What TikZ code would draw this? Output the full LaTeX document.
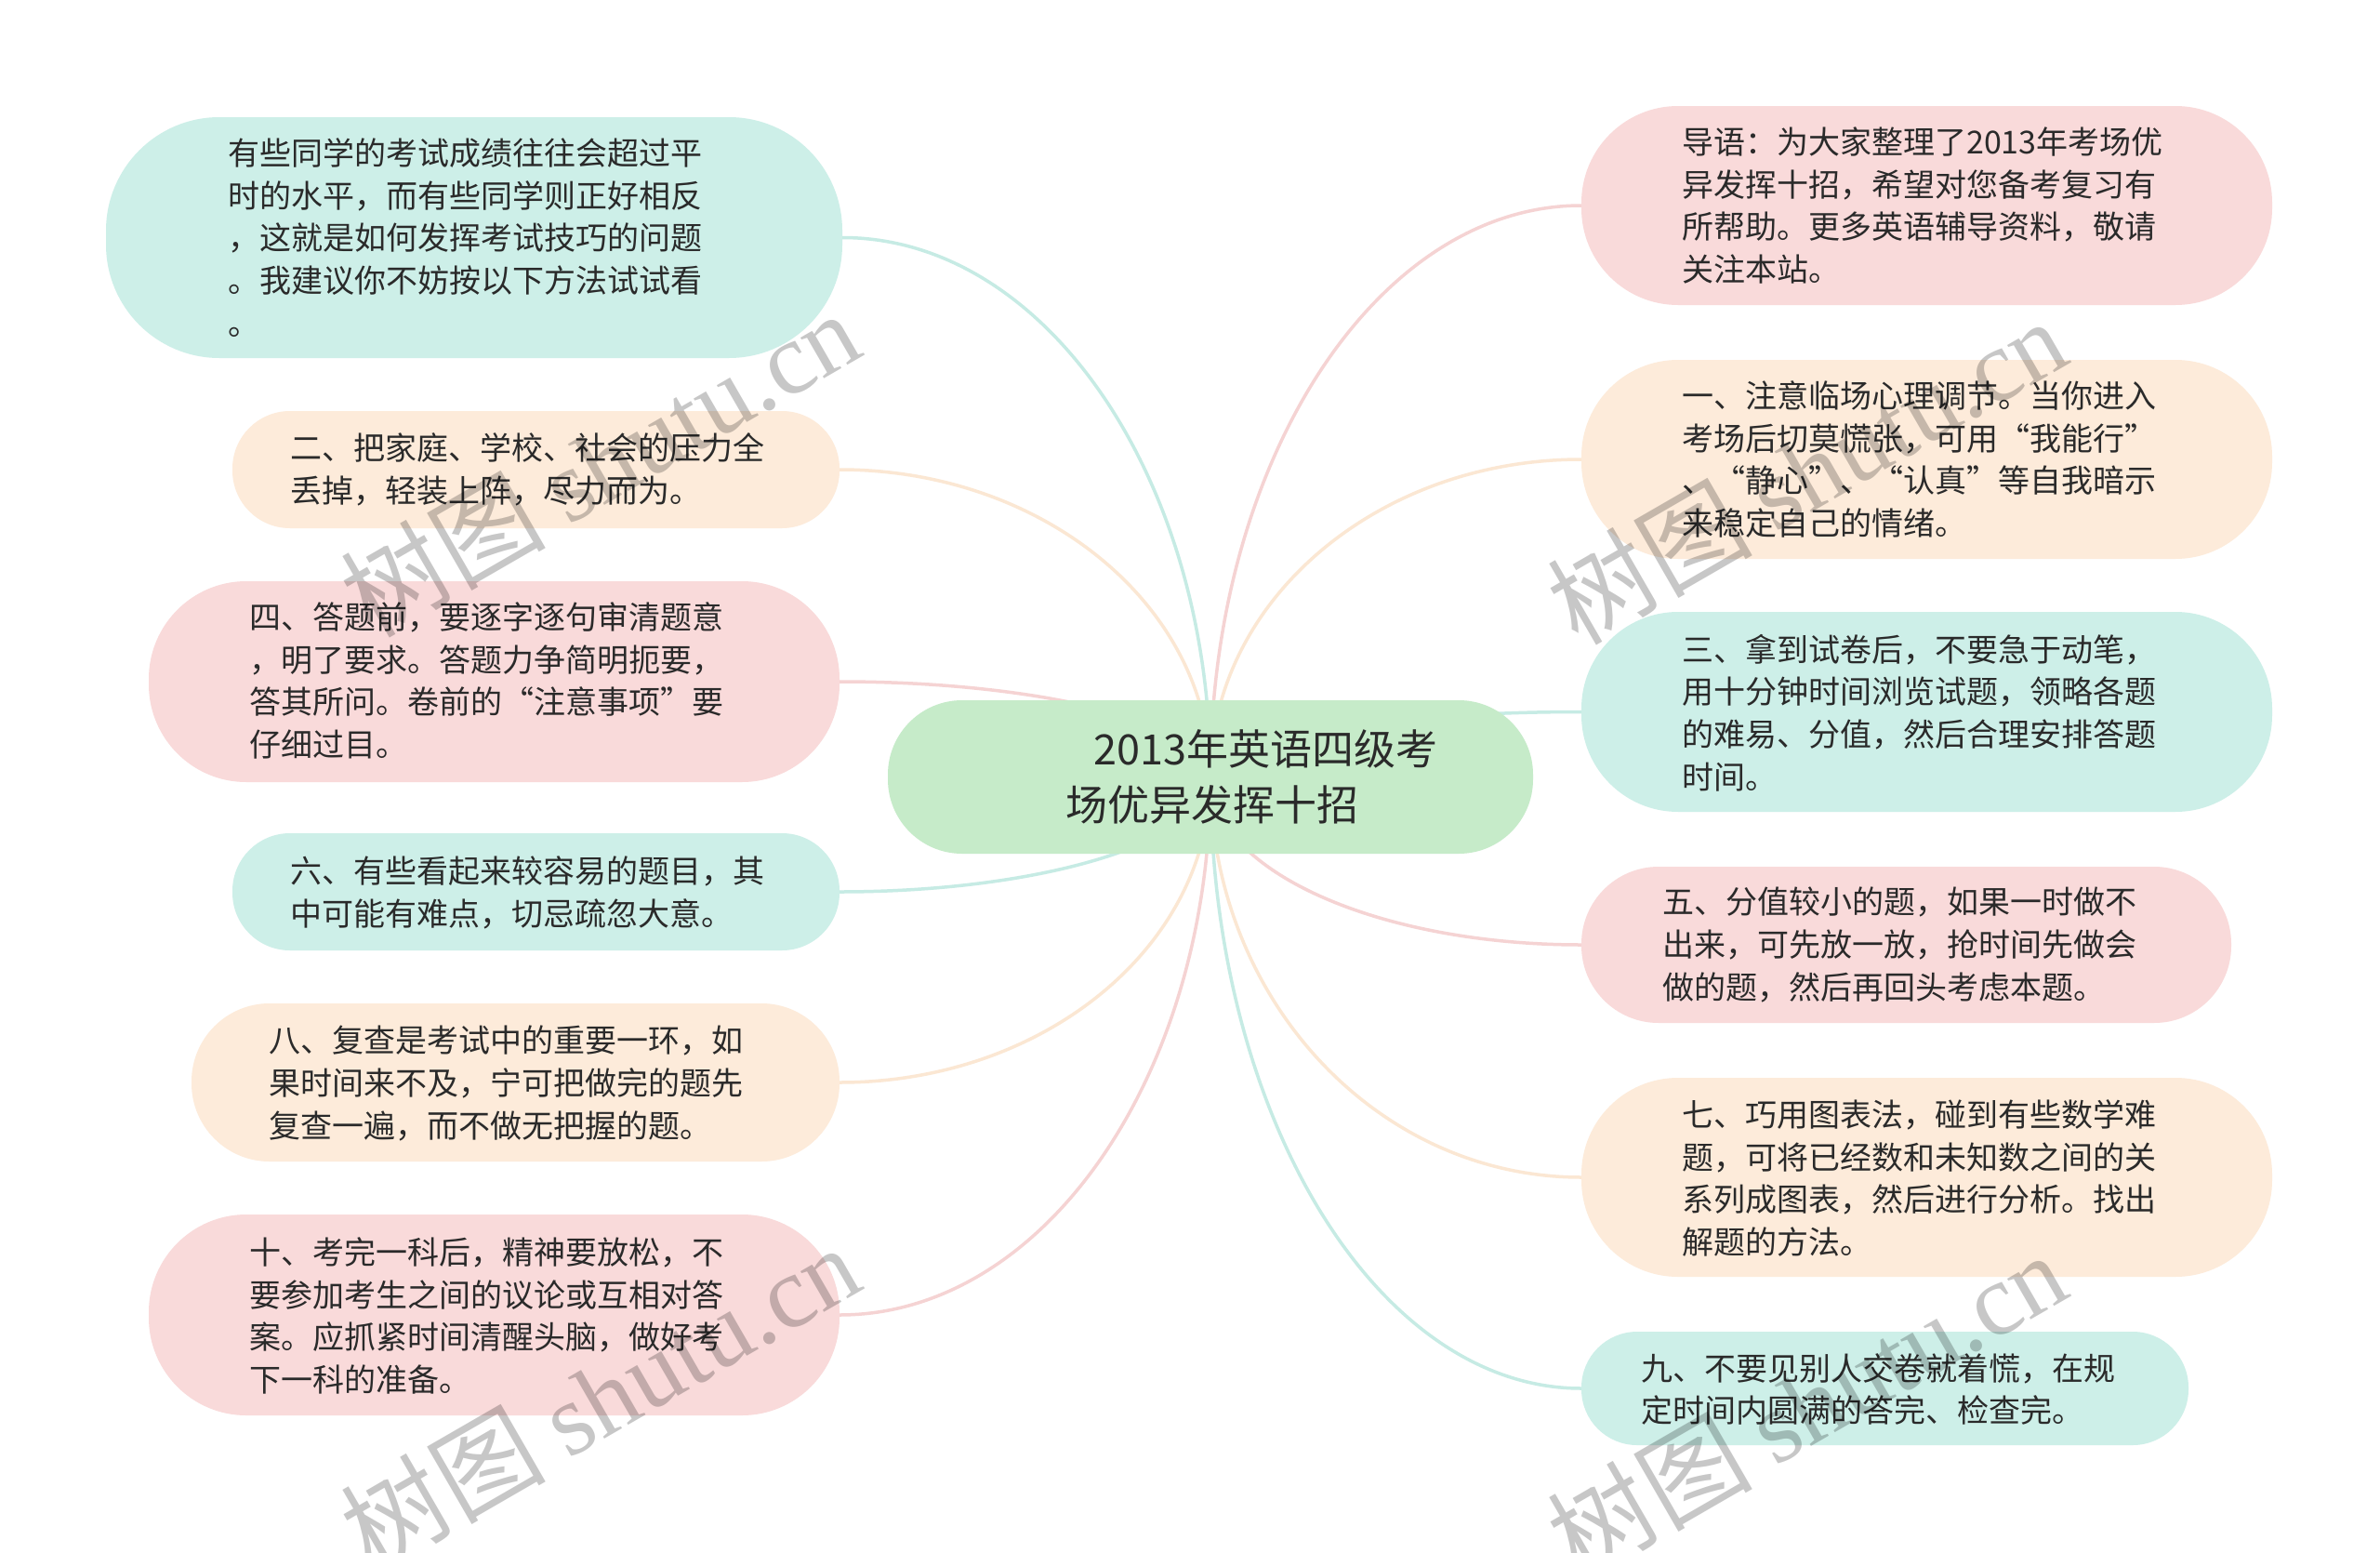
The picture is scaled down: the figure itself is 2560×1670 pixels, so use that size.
\documentclass[tikz,border=0pt]{standalone}
\usepackage{fontspec}
\setmainfont{Noto Sans CJK SC}
\newfontfamily\wmserif{Liberation Serif}
\usetikzlibrary{calc,backgrounds}
\definecolor{tealf}{HTML}{CDEFE8}
\definecolor{peachf}{HTML}{FDEBDA}
\definecolor{pinkf}{HTML}{F9DADA}
\definecolor{greenf}{HTML}{C6EBC9}
\definecolor{tealL}{HTML}{C6EBE4}
\definecolor{peachL}{HTML}{FBE7D3}
\definecolor{pinkL}{HTML}{F5D3D3}
\definecolor{txtc}{HTML}{2A2A2A}
\tikzset{
  bx/.style={shape=rectangle, inner sep=0pt, draw=none},
  txt/.style={anchor=west, align=left, inner sep=0pt, text=txtc,
    font=\fontsize{34}{45.8}\selectfont},
  conn/.style={line width=3.5pt},
  branch/.style={to path={.. controls ($(\tikztostart)!0.5523!(\tikztostart|-\tikztotarget)$) and ($(\tikztotarget)!0.5523!(\tikztostart|-\tikztotarget)$) .. (\tikztotarget)}},
  wm/.style={text=black, text opacity=0.22, inner sep=0pt, rotate=30,
    font=\fontsize{110}{120}\selectfont}
}
\begin{document}
\begin{tikzpicture}[x=1pt,y=-1pt]
\useasboundingbox (0,0) rectangle (2560,1670);

% center
\node[bx, fill=greenf, minimum width=694pt, minimum height=165pt, rounded corners=80pt] (C) at (1302,835.5) {};
\node[anchor=west, align=left, inner sep=0pt, text=txtc, font=\fontsize{45}{60}\selectfont] (Ct) at (1146,835) {\hspace*{30pt}2013年英语四级考\\场优异发挥十招};

% left boxes
\node[bx, fill=tealf, minimum width=792pt, minimum height=259pt, rounded corners=122pt] (L1) at (510,255.5) {};
\node[bx, fill=peachf, minimum width=653pt, minimum height=126pt, rounded corners=62pt] (L2) at (576.5,505) {};
\node[bx, fill=pinkf, minimum width=743pt, minimum height=216pt, rounded corners=105pt] (L3) at (531.5,733) {};
\node[bx, fill=tealf, minimum width=653pt, minimum height=126pt, rounded corners=62pt] (L4) at (576.5,959) {};
\node[bx, fill=peachf, minimum width=697pt, minimum height=170pt, rounded corners=84pt] (L5) at (554.5,1164) {};
\node[bx, fill=pinkf, minimum width=743pt, minimum height=216pt, rounded corners=105pt] (L6) at (531.5,1414) {};

% right boxes
\node[bx, fill=pinkf, minimum width=743pt, minimum height=214pt, rounded corners=104pt] (R1) at (2072.5,221) {};
\node[bx, fill=peachf, minimum width=743pt, minimum height=214pt, rounded corners=104pt] (R2) at (2072.5,494) {};
\node[bx, fill=tealf, minimum width=743pt, minimum height=215pt, rounded corners=104pt] (R3) at (2072.5,765.5) {};
\node[bx, fill=pinkf, minimum width=699pt, minimum height=168pt, rounded corners=83pt] (R4) at (2050.5,1016) {};
\node[bx, fill=peachf, minimum width=743pt, minimum height=214pt, rounded corners=104pt] (R5) at (2072.5,1266) {};
\node[bx, fill=tealf, minimum width=653pt, minimum height=122pt, rounded corners=60pt] (R6) at (2027.5,1493) {};

% texts
\node[txt] (L1t) at (245,255.5) {有些同学的考试成绩往往会超过平\\时的水平，而有些同学则正好相反\\，这就是如何发挥考试技巧的问题\\。我建议你不妨按以下方法试试看\\。};
\node[txt] (L2t) at (312,505) {二、把家庭、学校、社会的压力全\\丢掉，轻装上阵，尽力而为。};
\node[txt] (L3t) at (268,732) {四、答题前，要逐字逐句审清题意\\，明了要求。答题力争简明扼要，\\答其所问。卷前的“注意事项”要\\仔细过目。};
\node[txt] (L4t) at (312,960) {六、有些看起来较容易的题目，其\\中可能有难点，切忌疏忽大意。};
\node[txt] (L5t) at (289,1165) {八、复查是考试中的重要一环，如\\果时间来不及，宁可把做完的题先\\复查一遍，而不做无把握的题。};
\node[txt] (L6t) at (268,1415) {十、考完一科后，精神要放松，不\\要参加考生之间的议论或互相对答\\案。应抓紧时间清醒头脑，做好考\\下一科的准备。};

\node[txt] (R1t) at (1809,221) {导语：为大家整理了2013年考场优\\异发挥十招，希望对您备考复习有\\所帮助。更多英语辅导资料，敬请\\关注本站。};
\node[txt] (R2t) at (1809,494) {一、注意临场心理调节。当你进入\\考场后切莫慌张，可用“我能行”\\、“静心”、“认真”等自我暗示\\来稳定自己的情绪。};
\node[txt] (R3t) at (1809,766.5) {三、拿到试卷后，不要急于动笔，\\用十分钟时间浏览试题，领略各题\\的难易、分值，然后合理安排答题\\时间。};
\node[txt] (R4t) at (1788,1016) {五、分值较小的题，如果一时做不\\出来，可先放一放，抢时间先做会\\做的题，然后再回头考虑本题。};
\node[txt] (R5t) at (1809,1267) {七、巧用图表法，碰到有些数学难\\题，可将已经数和未知数之间的关\\系列成图表，然后进行分析。找出\\解题的方法。};
\node[txt] (R6t) at (1765,1494) {九、不要见别人交卷就着慌，在规\\定时间内圆满的答完、检查完。};

% connectors
\begin{scope}[on background layer]
\fill[white] (0,0) rectangle (2560,1670);
\draw[conn, tealL]  (C.center) to[branch] (L1.east);
\draw[conn, peachL] (C.center) to[branch] (L2.east);
\draw[conn, pinkL]  (C.center) to[branch] (L3.east);
\draw[conn, tealL]  (C.center) to[branch] (L4.east);
\draw[conn, peachL] (C.center) to[branch] (L5.east);
\draw[conn, pinkL]  (C.center) to[branch] (L6.east);
\draw[conn, pinkL]  (C.center) to[branch] (R1.west);
\draw[conn, peachL] (C.center) to[branch] (R2.west);
\draw[conn, tealL]  (C.center) to[branch] (R3.west);
\draw[conn, pinkL]  (C.center) to[branch] (R4.west);
\draw[conn, peachL] (C.center) to[branch] (R5.west);
\draw[conn, tealL]  (C.center) to[branch] (R6.west);
\end{scope}

% watermarks
\node[wm] (W1) at (645,498) {树图 {\wmserif shutu.cn}};
\node[wm] (W2) at (645,1502) {树图 {\wmserif shutu.cn}};
\node[wm] (W3) at (1943,506) {树图 {\wmserif shutu.cn}};
\node[wm] (W4) at (1943,1510) {树图 {\wmserif shutu.cn}};
\end{tikzpicture}
\end{document}
